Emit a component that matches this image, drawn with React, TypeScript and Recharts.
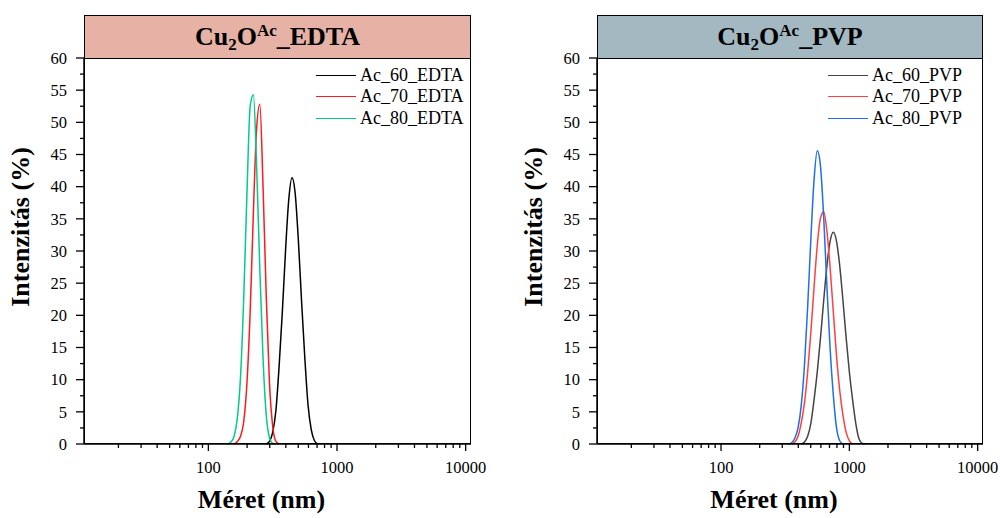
import { LineChart, Line, XAxis, YAxis } from "recharts";

const FONT = '"Liberation Serif", "Times New Roman", serif';

// size grid (nm), log spaced
const sizes = [
  133.4, 141.3, 149.6, 158.5, 167.9, 177.8, 188.4, 199.5, 211.3, 223.9, 237.1,
  251.2, 266.1, 281.8, 298.5, 316.2, 335.0, 354.8, 375.8, 398.1, 421.7, 446.7,
  473.2, 501.2, 530.9, 562.3, 595.7, 631.0, 668.3, 707.9, 749.9, 794.3, 841.4,
  891.3, 944.1, 1000, 1059.3, 1122.0, 1188.5, 1258.9, 1333.5,
];

// intensity (%) per sample, null = outside peak
const ac60Edta = [
  null, null, null, null, null, null, null, null, null, null, null, null, null,
  0, 0.4, 1.8, 5.2, 12.1, 20.5, 30.1, 38.0, 41.4, 38.9, 31.5, 22.0, 13.3, 6.0,
  2.2, 0.5, 0, null, null, null, null, null, null, null, null, null, null, null,
];
const ac70Edta = [
  null, null, null, 0, 0.4, 1.2, 3.5, 9.5, 20.5, 36, 49, 52.8, 40, 23, 9.5, 2.8,
  0.4, 0, null, null, null, null, null, null, null, null, null, null, null, null,
  null, null, null, null, null, null, null, null, null, null, null,
];
const ac80Edta = [
  null, 0, 0.3, 1.2, 4.0, 10.4, 22.8, 38.9, 52.5, 54.3, 43.3, 27.2, 13.3, 4.5,
  1.0, 0.1, 0, null, null, null, null, null, null, null, null, null, null, null,
  null, null, null, null, null, null, null, null, null, null, null, null, null,
];

const ac60Pvp = [
  null, null, null, null, null, null, null, null, null, null, null, null, null,
  null, null, null, null, null, null, null, 0, 0.3, 1.2, 3.2, 6.9, 11.2, 16.5,
  22.3, 27.7, 31.5, 32.9, 31.5, 27.7, 22.3, 16.5, 11.2, 6.9, 3.2, 0.8, 0.1, 0,
];
const ac70Pvp = [
  null, null, null, null, null, null, null, null, null, null, null, null, null,
  null, null, null, null, 0, 0.3, 1.2, 3.3, 6.4, 11.2, 17.4, 24.4, 30.9, 35.1,
  36.1, 33.1, 27.4, 20.5, 13.7, 8.3, 4.5, 1.8, 0.5, 0, null, null, null, null,
];
const ac80Pvp = [
  null, null, null, null, null, null, null, null, null, null, null, null, null,
  null, null, null, 0, 0.2, 0.9, 2.5, 6.0, 12.2, 21.3, 31.9, 41.1, 45.6, 43.2,
  35.2, 24.6, 14.8, 7.6, 2.5, 0.5, 0, null, null, null, null, null, null, null,
];

const xMajor = [100, 1000, 10000];
const xTicks = [
  20, 30, 40, 50, 60, 70, 80, 90, 100, 200, 300, 400, 500, 600, 700, 800, 900,
  1000, 2000, 3000, 4000, 5000, 6000, 7000, 8000, 9000, 10000,
];
const yTicks = [
  0, 2.5, 5, 7.5, 10, 12.5, 15, 17.5, 20, 22.5, 25, 27.5, 30, 32.5, 35, 37.5, 40,
  42.5, 45, 47.5, 50, 52.5, 55, 57.5, 60,
];

const TOP = 58;
const BOTTOM = 444;

const XTick = (props: any) => {
  const { x, y, payload } = props;
  const major = xMajor.includes(payload.value);
  return (
    <g>
      <line x1={x} x2={x} y1={y} y2={y + (major ? 7 : 4)} stroke="#000" strokeWidth={1.3} />
      {major && (
        <text x={x} y={y + 29} textAnchor="middle" fontSize={16.5} fontFamily={FONT} fill="#000">
          {payload.value}
        </text>
      )}
    </g>
  );
};

const YTick = (props: any) => {
  const { x, y, payload } = props;
  const major = payload.value % 5 === 0;
  return (
    <g>
      <line x1={x - (major ? 8 : 4)} x2={x} y1={y} y2={y} stroke="#000" strokeWidth={1.3} />
      {major && (
        <text x={x - 17} y={y} dy="0.35em" textAnchor="end" fontSize={16.5} fontFamily={FONT} fill="#000">
          {payload.value}
        </text>
      )}
    </g>
  );
};

interface Series {
  key: string;
  name: string;
  color: string;
  values: (number | null)[];
}

interface PanelProps {
  left: number;
  plotLeft: number;
  plotRight: number;
  title: string;
  titleBg: string;
  series: Series[];
}

const Panel = ({ left, plotLeft, plotRight, title, titleBg, series }: PanelProps) => {
  const data = sizes.map((s, i) => {
    const row: any = { size: s };
    series.forEach((sr) => (row[sr.key] = sr.values[i]));
    return row;
  });
  const plotW = plotRight - plotLeft;
  const midX = (plotLeft + plotRight) / 2;

  return (
    <>
      <div style={{ position: "absolute", left, top: 0 }}>
        <LineChart
          width={500}
          height={518}
          data={data}
          margin={{ top: TOP, right: 500 - (plotRight - left), bottom: 518 - BOTTOM - 30, left: plotLeft - left - 40 }}
        >
          <XAxis
            dataKey="size"
            type="number"
            scale="log"
            domain={[10.8, 11000]}
            allowDataOverflow
            ticks={xTicks}
            interval={0}
            tickSize={0}
            tickMargin={0}
            tick={<XTick />}
            height={30}
            axisLine={{ stroke: "#000", strokeWidth: 1.5 }}
          />
          <YAxis
            type="number"
            domain={[0, 60]}
            ticks={yTicks}
            interval={0}
            tickSize={0}
            tickMargin={0}
            tick={<YTick />}
            width={40}
            axisLine={{ stroke: "#000", strokeWidth: 1.5 }}
          />
          {series.map((sr) => (
            <Line
              key={sr.key}
              dataKey={sr.key}
              name={sr.name}
              type="monotone"
              stroke={sr.color}
              strokeWidth={1.5}
              dot={false}
              activeDot={false}
              isAnimationActive={false}
            />
          ))}
        </LineChart>
      </div>

      {/* plot frame */}
      <div
        style={{
          position: "absolute",
          left: plotLeft,
          top: TOP,
          width: plotW,
          height: BOTTOM - TOP,
          border: "1.5px solid #000",
          boxSizing: "border-box",
          pointerEvents: "none",
        }}
      />

      {/* title box */}
      <div
        style={{
          position: "absolute",
          left: plotLeft,
          top: 15,
          width: plotW,
          height: TOP - 15 + 1,
          background: titleBg,
          border: "1.5px solid #000",
          boxSizing: "border-box",
          display: "flex",
          alignItems: "center",
          justifyContent: "center",
          fontFamily: FONT,
          fontWeight: "bold",
          fontSize: 26,
          color: "#000",
          lineHeight: 1,
        }}
      >
        <span>
          Cu<span style={{ fontSize: 17, verticalAlign: -5 }}>2</span>O
          <span style={{ fontSize: 17, verticalAlign: 9 }}>Ac</span>
          {title}
        </span>
      </div>

      {/* legend */}
      {series.map((sr, i) => (
        <div
          key={sr.key}
          style={{
            position: "absolute",
            left: plotRight - 155,
            top: 75 + i * 21.7 - 11,
            height: 22,
            display: "flex",
            alignItems: "center",
            fontFamily: FONT,
            fontSize: 18,
            color: "#000",
            whiteSpace: "nowrap",
          }}
        >
          <div style={{ width: 40, height: 0, borderTop: `1.5px solid ${sr.color}`, marginRight: 4 }} />
          <span>{sr.name}</span>
        </div>
      ))}

      {/* axis titles */}
      <div
        style={{
          position: "absolute",
          left: plotLeft - 63,
          top: 227,
          transform: "translate(-50%, -50%) rotate(-90deg)",
          fontFamily: FONT,
          fontWeight: "bold",
          fontSize: 26,
          whiteSpace: "nowrap",
          color: "#000",
        }}
      >
        Intenzitás (%)
      </div>
      <div
        style={{
          position: "absolute",
          left: midX - 16,
          top: 500,
          transform: "translate(-50%, -50%)",
          fontFamily: FONT,
          fontWeight: "bold",
          fontSize: 26,
          whiteSpace: "nowrap",
          color: "#000",
        }}
      >
        Méret (nm)
      </div>
    </>
  );
};

const App = () => {
  return (
    <div style={{ position: "absolute", left: 0, top: 0, width: 1000, height: 518, background: "#fff", overflow: "hidden" }}>
      <Panel
        left={0}
        plotLeft={84}
        plotRight={471}
        title="_EDTA"
        titleBg="#E6B2A5"
        series={[
          { key: "e60", name: "Ac_60_EDTA", color: "#000000", values: ac60Edta },
          { key: "e70", name: "Ac_70_EDTA", color: "#FF1A1A", values: ac70Edta },
          { key: "e80", name: "Ac_80_EDTA", color: "#00CC88", values: ac80Edta },
        ]}
      />
      <Panel
        left={500}
        plotLeft={597}
        plotRight={983}
        title="_PVP"
        titleBg="#A3B8C0"
        series={[
          { key: "p60", name: "Ac_60_PVP", color: "#454545", values: ac60Pvp },
          { key: "p70", name: "Ac_70_PVP", color: "#FF4040", values: ac70Pvp },
          { key: "p80", name: "Ac_80_PVP", color: "#1F6FE8", values: ac80Pvp },
        ]}
      />
    </div>
  );
};

export default App;
